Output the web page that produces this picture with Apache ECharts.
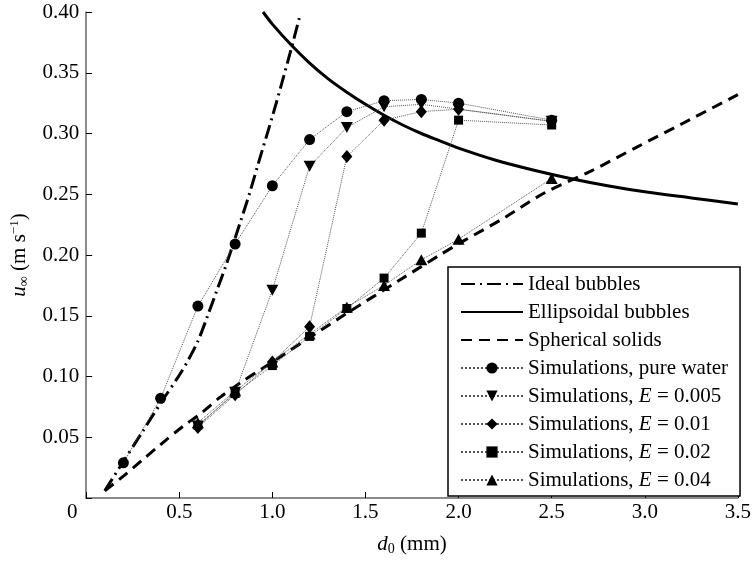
<!DOCTYPE html>
<html>
<head>
<meta charset="utf-8">
<script src="https://cdn.jsdelivr.net/npm/echarts@6/dist/echarts.min.js"></script>
<style>
  html, body { margin: 0; padding: 0; background: #fff; }
  #chart { width: 754px; height: 561px; }
</style>
</head>
<body>
<div id="chart"></div>
<script>
// model curves
const idealD = [0.10, 0.20, 0.30, 0.40, 0.50, 0.55, 0.60, 0.65, 0.70, 0.75, 0.83, 0.88, 0.92, 1.00, 1.05, 1.10, 1.15]
const idealU = [0.006, 0.030, 0.054, 0.078, 0.101, 0.114, 0.129, 0.149, 0.170, 0.191, 0.228, 0.252, 0.273, 0.314, 0.341, 0.369, 0.398]

const ellipD = [0.95, 1.00, 1.10, 1.20, 1.30, 1.40, 1.50, 1.60, 1.70, 1.80, 1.90, 2.00, 2.20, 2.40, 2.60, 2.80, 3.00, 3.25, 3.50]
const ellipU = [0.400, 0.390, 0.373, 0.358, 0.345, 0.334, 0.324, 0.315, 0.307, 0.300, 0.294, 0.288, 0.278, 0.270, 0.263, 0.257, 0.252, 0.247, 0.242]

const solidD = [0.10, 0.20, 0.30, 0.40, 0.52, 0.62, 0.72, 0.83, 0.94, 1.06, 1.17, 1.40, 1.68, 1.91, 2.02, 2.25, 2.46, 2.71, 2.96, 3.20, 3.50]
const solidU = [0.006, 0.018, 0.031, 0.044, 0.059, 0.070, 0.083, 0.095, 0.106, 0.118, 0.129, 0.152, 0.179, 0.201, 0.211, 0.231, 0.251, 0.269, 0.289, 0.308, 0.332]

// simulations
const pureD = [0.2, 0.4, 0.6, 0.8, 1.0, 1.2, 1.4, 1.6, 1.8, 2.0, 2.5]
const pureU = [0.029, 0.082, 0.158, 0.209, 0.257, 0.295, 0.318, 0.327, 0.328, 0.325, 0.311]

const simD = [0.6, 0.8, 1.0, 1.2, 1.4, 1.6, 1.8, 2.0, 2.5]
const e005U = [0.059, 0.087, 0.171, 0.273, 0.305, 0.322, 0.324, 0.320, 0.310]
const e01U = [0.058, 0.085, 0.112, 0.141, 0.281, 0.311, 0.318, 0.320, 0.310]
const e02U = [0.060, 0.086, 0.109, 0.133, 0.156, 0.181, 0.218, 0.311, 0.307]
const e04U = [0.062, 0.088, 0.112, 0.135, 0.157, 0.175, 0.196, 0.213, 0.263]

const xTicks = { min: 0, max: 3.5, interval: 0.5 }
const yTicks = { min: 0, max: 0.4, interval: 0.05 }

const FONT = 'Liberation Serif'
const FS = 21

function pairs (xs, ys) {
  return xs.map((x, i) => [x, ys[i]])
}

function curve (name, xs, ys, type) {
  return {
    name,
    type: 'line',
    data: pairs(xs, ys),
    showSymbol: false,
    // filled + transparent, so the legend icon is only the line
    symbol: 'circle',
    smooth: 0.3,
    lineStyle: { color: '#000', width: 3, type },
    itemStyle: { color: 'rgba(0,0,0,0)', borderWidth: 0 },
    z: 3
  }
}

function sims (name, xs, ys, symbol, size, rotate) {
  return {
    name,
    type: 'line',
    data: pairs(xs, ys),
    symbol,
    symbolSize: size,
    symbolRotate: rotate || 0,
    lineStyle: { color: '#555', width: 1, type: 'dotted' },
    itemStyle: { color: '#000', borderWidth: 0 },
    z: 4
  }
}

const chart = echarts.init(document.getElementById('chart'))

const option = {
  backgroundColor: '#fff',
  animation: false,
  textStyle: { fontFamily: FONT },
  grid: { left: 84, right: 12, top: 12, bottom: 57 },
  legend: {
    orient: 'vertical',
    left: 448,
    top: 267,
    padding: [6, 12, 5, 12],
    itemWidth: 62,
    itemHeight: 14,
    itemGap: 6,
    borderColor: '#000',
    borderWidth: 1.5,
    borderRadius: 0,
    backgroundColor: '#fff',
    itemStyle: { borderWidth: 0 },
    textStyle: {
      fontFamily: FONT,
      fontSize: FS,
      lineHeight: 22,
      color: '#000',
      rich: {
        i: { fontFamily: FONT, fontSize: FS, fontStyle: 'italic', color: '#000' }
      }
    },
    formatter: name => name.replace('E =', '{i|E} ='),
    data: [
      'Ideal bubbles',
      'Ellipsoidal bubbles',
      'Spherical solids',
      'Simulations, pure water',
      'Simulations, E = 0.005',
      'Simulations, E = 0.01',
      'Simulations, E = 0.02',
      'Simulations, E = 0.04'
    ]
  },
  xAxis: {
    type: 'value',
    ...xTicks,
    name: '{i|d}{sub|0} (mm)',
    nameLocation: 'middle',
    nameGap: 34,
    nameTextStyle: {
      fontFamily: FONT,
      fontSize: FS,
      color: '#000',
      rich: {
        i: { fontFamily: FONT, fontSize: FS, fontStyle: 'italic' },
        sub: { fontFamily: FONT, fontSize: 14, padding: [10, 0, 0, 0] }
      }
    },
    axisLine: { lineStyle: { color: '#666', width: 1.5 } },
    axisTick: { inside: true, length: 6, lineStyle: { color: '#000' } },
    splitLine: { show: false },
    axisLabel: {
      fontFamily: FONT,
      fontSize: FS,
      color: '#000',
      margin: 4,
      formatter: v => (v === 0 ? '{z|0}' : v.toFixed(1)),
      rich: { z: { fontFamily: FONT, fontSize: FS, padding: [0, 28, 0, 0] } }
    }
  },
  yAxis: {
    type: 'value',
    ...yTicks,
    name: '{i|u}{sub|∞} (m s{sup|−1})',
    nameLocation: 'middle',
    nameGap: 44,
    nameRotate: 90,
    nameTextStyle: {
      fontFamily: FONT,
      fontSize: FS,
      color: '#000',
      rich: {
        i: { fontFamily: FONT, fontSize: FS, fontStyle: 'italic' },
        sub: { fontFamily: FONT, fontSize: 14, padding: [10, 0, 0, 0] },
        sup: { fontFamily: FONT, fontSize: 13, padding: [0, 0, 10, 0] }
      }
    },
    axisLine: { show: true, lineStyle: { color: '#666', width: 1.5 } },
    axisTick: { show: true, inside: true, length: 6, lineStyle: { color: '#000' } },
    splitLine: { show: false },
    axisLabel: {
      fontFamily: FONT,
      fontSize: FS,
      color: '#000',
      margin: 7,
      formatter: v => (v === 0 ? '' : v.toFixed(2))
    }
  },
  series: [
    curve('Ideal bubbles', idealD, idealU, [14, 5, 2, 5]),
    curve('Ellipsoidal bubbles', ellipD, ellipU, 'solid'),
    curve('Spherical solids', solidD, solidU, [11, 7]),
    sims('Simulations, pure water', pureD, pureU, 'circle', 11),
    sims('Simulations, E = 0.005', simD, e005U, 'triangle', [12, 11], 180),
    sims('Simulations, E = 0.01', simD, e01U, 'diamond', [11, 13]),
    sims('Simulations, E = 0.02', simD, e02U, 'rect', 9),
    sims('Simulations, E = 0.04', simD, e04U, 'triangle', [12, 11])
  ]
}

chart.setOption(option)
</script>
</body>
</html>
